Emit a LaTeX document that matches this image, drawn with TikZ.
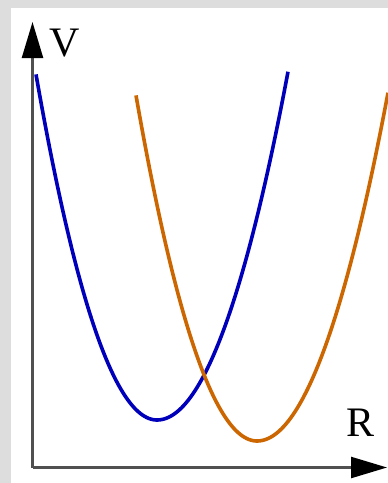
\documentclass[tikz,border=0pt]{standalone}
\usepackage{fontspec}
\setmainfont{Liberation Serif}
\usepackage{tikz}
\usetikzlibrary{arrows.meta}
\definecolor{frame}{HTML}{DDDDDD}
\definecolor{axisgray}{HTML}{505050}
\definecolor{wellblue}{HTML}{0000BB}
\definecolor{wellorange}{HTML}{CC6600}

\begin{document}
\begin{tikzpicture}[x=1pt, y=-1pt,
  ax/.style={line width=2.4pt, color=axisgray,
             -{Triangle[length=36pt, width=21pt, color=black, fill=black]}},
  pot/.style={line width=3.6pt, smooth, samples=60},
  lbl/.style={font=\fontsize{42}{44}\selectfont, inner sep=0pt}
]
\useasboundingbox (0,0) rectangle (388,483);

% Background frame
\fill[frame] (0,0) rectangle (388,483);
\fill[white] (11,8) rectangle (388,483);

% Axes
\coordinate (O) at (32.5,467.5);
\coordinate (Vtip) at (32.5,22);
\coordinate (Rtip) at (387,467.5);
\draw[ax] (O) -- (Vtip);
\draw[ax] (O) -- (Rtip);
\node[lbl] (V) at (64.5,43) {V};
\node[lbl] (R) at (361,423) {R};

% Lower potential well
\begin{scope}[shift={(157,420)}]
  \draw[pot, wellblue] plot[domain=-121:0] (\x, {-0.0236*\x*\x})
    -- plot[domain=0:131] (\x, {-0.0203*\x*\x});
\end{scope}

% Shifted potential well
\begin{scope}[shift={(257,441)}]
  \draw[pot, wellorange] plot[domain=-121:0] (\x, {-0.0236*\x*\x})
    -- plot[domain=0:131] (\x, {-0.0203*\x*\x});
\end{scope}

\end{tikzpicture}
\end{document}
